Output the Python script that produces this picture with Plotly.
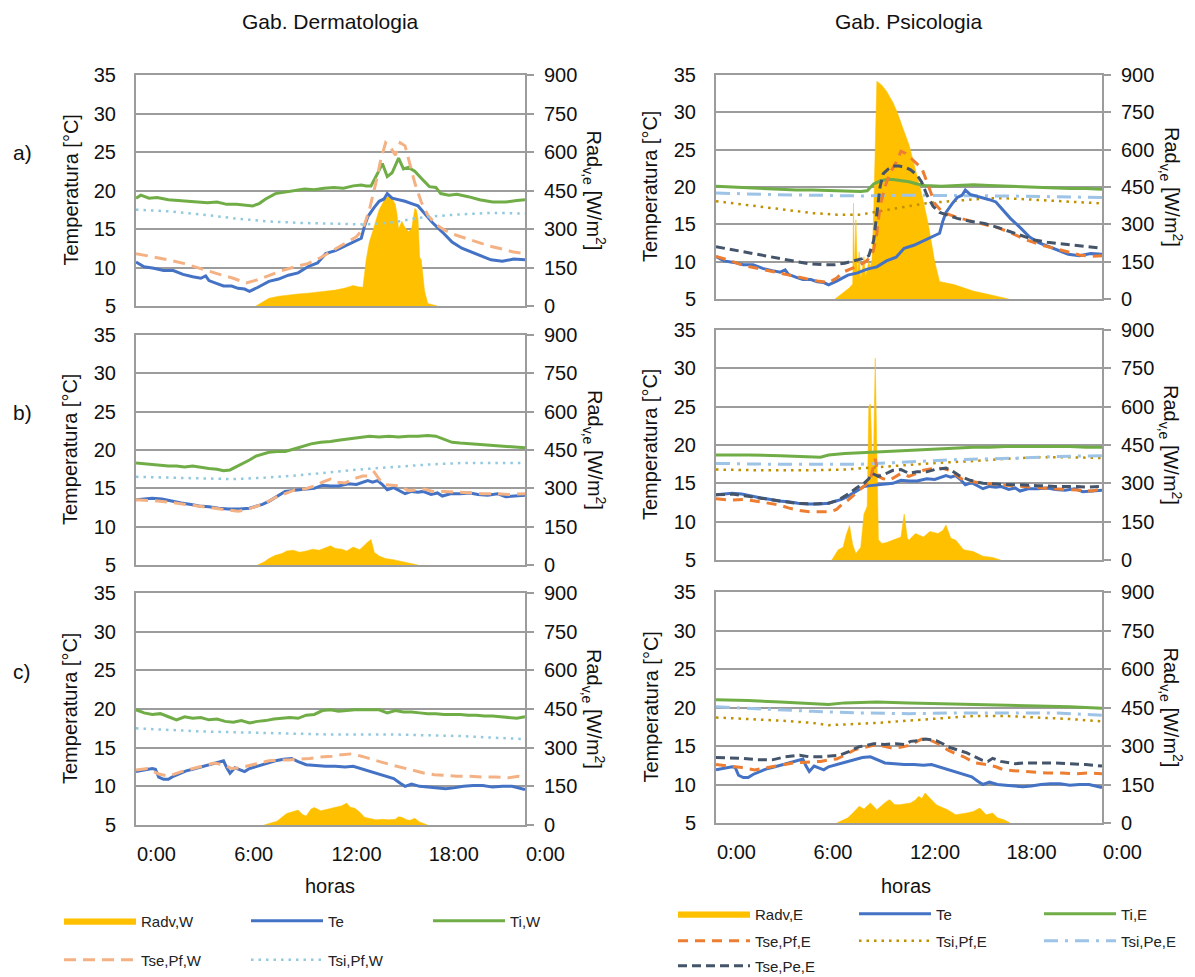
import plotly.graph_objects as go

W, H = 1195, 977

# ---------------- DATA ----------------
HOUR_TICKS = [0, 6, 12, 18, 24]
HOUR_LABELS = ["0:00", "6:00", "12:00", "18:00", "0:00"]

# Row a ---------------------------------------------------------------
TE_A_H = [0, 0.5, 1.1, 1.7, 2.3, 2.9, 3.5, 4.0, 4.3, 4.5, 5.0, 5.4, 5.9, 6.3, 6.7, 7.0, 7.5, 8.2, 8.8, 9.4,
          10.0, 10.6, 11.2, 11.7, 12.3, 12.9, 13.4, 13.9, 14.1, 14.3, 14.7, 15.0, 15.3, 15.5, 15.8, 16.2, 16.6,
          17.0, 17.4, 17.9, 18.3, 18.9, 19.5, 20.1, 20.7, 21.3, 21.9, 22.6, 23.3, 24.0]
TE_A = [10.7, 10.1, 9.9, 9.6, 9.6, 9.1, 8.8, 8.6, 8.9, 8.3, 7.9, 7.6, 7.6, 7.3, 7.2, 6.9, 7.4, 8.2, 8.5, 9.0,
        9.3, 10.1, 10.6, 11.8, 12.2, 12.8, 13.4, 13.8, 15.4, 16.6, 17.8, 18.6, 18.9, 19.6, 19.0, 18.8, 18.6,
        18.3, 18.0, 16.8, 15.8, 14.6, 13.3, 12.5, 12.0, 11.5, 11.0, 10.8, 11.1, 11.0]

TIW_A_H = [0, 0.3, 0.8, 1.3, 2.0, 2.6, 3.2, 3.8, 4.4, 5.0, 5.6, 6.2, 6.8, 7.2, 7.6, 8.0, 8.6, 9.2, 9.8, 10.4,
           11.0, 11.6, 12.2, 12.8, 13.4, 13.9, 14.2, 14.5, 14.9, 15.2, 15.5, 15.8, 16.2, 16.5, 16.8, 17.2, 17.6,
           18.1, 18.5, 18.8, 19.3, 19.8, 20.5, 21.2, 22.0, 22.8, 23.5, 24.0]
TIW_A = [19.0, 19.4, 19.0, 19.1, 18.8, 18.7, 18.6, 18.5, 18.4, 18.5, 18.2, 18.2, 18.1, 18.0, 18.3, 18.9, 19.6,
         19.8, 20.0, 20.2, 20.1, 20.3, 20.4, 20.3, 20.6, 20.7, 20.6, 20.6, 22.2, 23.5, 21.8, 22.3, 24.2, 22.8,
         23.0, 22.5, 21.6, 20.5, 20.4, 19.6, 19.4, 19.5, 19.2, 18.8, 18.5, 18.5, 18.7, 18.8]

TSEW_A_H = [0, 1, 2, 3, 4, 5, 6, 6.8, 7.5, 8.2, 9, 10, 10.6, 11.4, 12.2, 12.9, 13.6, 14.0, 14.4, 14.8, 15.1,
            15.4, 15.7, 16.0, 16.3, 16.6, 16.9, 17.2, 17.6, 18.0, 18.5, 19.0, 19.6, 20.3, 21.0, 21.8, 22.6,
            23.3, 24]
TSEW_A = [11.8, 11.4, 11.0, 10.5, 9.8, 9.2, 8.6, 8.0, 8.4, 9.0, 9.6, 10.2, 10.5, 11.3, 12.3, 13.2, 14.0, 15.0,
          17.5, 21.0, 24.0, 26.2, 25.6, 24.6, 26.2, 25.8, 23.5, 21.0, 18.5, 16.8, 15.6, 14.9, 14.3, 13.8, 13.3,
          12.8, 12.4, 12.0, 11.8]

TSIW_A_H = [0, 2, 4, 6, 8, 10, 12, 14, 15, 16, 17, 18, 20, 22, 24]
TSIW_A = [17.5, 17.3, 16.9, 16.4, 16.0, 15.8, 15.7, 15.6, 15.7, 15.9, 16.3, 16.6, 16.9, 17.1, 17.0]

RADW_A_H = [7.4, 7.8, 8.2, 8.8, 9.4, 10.0, 10.6, 11.2, 11.7, 12.3, 12.9, 13.4, 13.7, 14.0, 14.2, 14.4, 14.6,
            14.8, 15.0, 15.3, 15.6, 15.8, 16.0, 16.1, 16.2, 16.4, 16.6, 16.8, 17.0, 17.2, 17.3, 17.4, 17.5,
            17.6, 17.8, 18.0, 18.4, 18.6]
RADW_A = [0, 15, 30, 38, 43, 47, 50, 54, 57, 62, 70, 80, 75, 73, 180, 250, 290, 330, 375, 410, 432, 420, 395,
          360, 300, 330, 305, 290, 300, 380, 375, 340, 190, 180, 60, 10, 3, 0]

TSEPF_A_H = [0, 0.8, 1.7, 2.8, 4.0, 4.8, 5.6, 6.3, 7.0, 7.5, 7.9, 8.4, 8.9, 9.3, 9.6, 9.8, 10.0, 10.2, 10.5,
             10.8, 11.2, 11.5, 11.8, 12.1, 12.4, 12.8, 13.2, 13.6, 14.0, 14.5, 15.2, 16.0, 16.8, 17.6, 18.4,
             19.2, 20.1, 21.0, 21.8, 22.6, 23.3, 24.0]
TSEPF_A = [10.7, 10.2, 9.5, 9.0, 8.4, 8.1, 7.7, 7.4, 7.2, 7.8, 8.6, 9.0, 9.5, 10.0, 10.6, 11.6, 13.8, 17.4,
           20.0, 21.8, 23.3, 24.8, 24.5, 23.9, 23.3, 22.5, 20.2, 17.8, 16.8, 16.3, 15.8, 15.4, 15.0, 14.5,
           13.8, 13.0, 12.3, 11.8, 11.3, 10.9, 10.7, 10.8]

TSEPE_A_H = [0, 1.0, 2.0, 3.0, 4.0, 5.0, 5.8, 6.6, 7.4, 8.0, 8.6, 9.1, 9.5, 9.8, 10.0, 10.2, 10.4, 10.7, 11.0,
             11.4, 11.8, 12.1, 12.5, 12.8, 13.1, 13.5, 13.9, 14.4, 15.0, 15.8, 16.7, 17.5, 18.3, 19.0, 19.8,
             20.6, 21.4, 22.2, 23.0, 24.0]
TSEPE_A = [12.0, 11.6, 11.2, 10.8, 10.4, 10.0, 9.7, 9.6, 9.6, 9.8, 10.1, 10.4, 10.8, 12.8, 16.4, 20.0, 21.8,
           22.4, 22.8, 22.8, 22.6, 22.3, 21.6, 20.6, 19.0, 17.4, 16.6, 16.2, 15.8, 15.4, 15.1, 14.6, 14.0,
           13.4, 12.9, 12.6, 12.4, 12.2, 12.0, 11.8]

TIE_A_H = [0, 1, 2, 3, 4, 5, 6, 7, 8, 9, 9.4, 9.8, 10.2, 10.6, 11.0, 11.5, 12.0, 12.5, 13.0, 14, 15, 16, 17,
           18, 19, 20, 21, 22, 23, 24]
TIE_A = [20.1, 20.0, 19.9, 19.8, 19.7, 19.6, 19.6, 19.5, 19.4, 19.4, 19.5, 20.4, 20.8, 21.0, 21.0, 20.9, 20.7,
         20.4, 20.2, 20.1, 20.2, 20.3, 20.2, 20.1, 20.0, 20.0, 19.9, 19.8, 19.8, 19.7]

TSIPE_A_H = [0, 3, 6, 9, 12, 15, 18, 21, 24]
TSIPE_A = [19.2, 19.0, 18.9, 18.8, 18.9, 18.9, 18.8, 18.7, 18.6]

TSIPF_A_H = [0, 1.5, 3, 4.5, 6, 7.5, 9, 10, 11, 12, 13, 14, 15, 16, 17, 18, 19, 20, 21, 22, 23, 24]
TSIPF_A = [18.1, 17.7, 17.3, 16.9, 16.5, 16.3, 16.3, 16.7, 17.1, 17.5, 17.8, 18.0, 18.2, 18.4, 18.5, 18.5,
           18.4, 18.3, 18.2, 18.0, 17.9, 17.8]

RADE_A_H = [7.4, 7.7, 8.0, 8.3, 8.5, 8.55, 8.6, 8.7, 8.8, 8.9, 9.0, 9.2, 9.3, 9.5, 9.6, 9.7, 9.8, 9.9, 10.0,
            10.3, 10.6, 11.0, 11.3, 11.6, 12.0, 12.4, 12.8, 13.2, 13.6, 13.9, 14.2, 14.8, 15.4, 16.0, 16.7,
            17.3, 17.8, 18.2]
RADE_A = [0, 15, 30, 45, 60, 385, 120, 318, 90, 190, 80, 170, 90, 150, 130, 160, 340, 600, 875, 860, 835,
          790, 745, 690, 620, 520, 420, 300, 150, 70, 66, 58, 45, 32, 22, 12, 6, 0]

# Row b ---------------------------------------------------------------
TE_B_H = [0, 0.5, 1.0, 1.6, 2.2, 2.8, 3.4, 3.9, 4.5, 5.1, 5.7, 6.4, 7.0, 7.4, 7.8, 8.2, 8.5, 8.9, 9.2, 9.6,
          10.1, 10.6, 11.0, 11.5, 12.0, 12.5, 13.1, 13.6, 14.0, 14.3, 14.6, 14.9, 15.2, 15.5, 15.9, 16.3, 16.6,
          17.0, 17.4, 17.7, 18.2, 18.6, 18.9, 19.4, 20.0, 20.6, 21.1, 21.7, 22.3, 22.8, 23.4, 24.0]
TE_B = [13.5, 13.6, 13.7, 13.6, 13.3, 13.1, 12.9, 12.7, 12.6, 12.4, 12.3, 12.3, 12.4, 12.6, 12.9, 13.3, 13.7,
        14.2, 14.6, 14.7, 14.8, 14.9, 15.0, 15.4, 15.3, 15.3, 15.6, 15.5, 15.8, 16.0, 15.8, 16.0, 15.5, 14.8,
        15.1, 14.7, 14.3, 14.6, 14.5, 14.6, 14.2, 14.4, 14.0, 14.3, 14.3, 14.4, 14.2, 14.1, 14.3, 13.9, 14.0,
        14.1]

TIW_B_H = [0, 0.5, 1, 1.5, 2, 2.5, 3, 3.5, 4, 4.5, 5, 5.4, 5.8, 6.2, 6.6, 7.0, 7.4, 7.8, 8.2, 8.7, 9.2, 9.7,
           10.2, 10.8, 11.4, 12.0, 12.6, 13.2, 13.8, 14.4, 15.0, 15.6, 16.2, 16.8, 17.4, 18.0, 18.5, 19.0,
           19.5, 20.0, 20.6, 21.2, 21.8, 22.4, 23.0, 23.5, 24.0]
TIW_B = [18.3, 18.2, 18.1, 18.0, 17.9, 17.9, 17.8, 17.9, 17.7, 17.6, 17.5, 17.3, 17.4, 17.8, 18.2, 18.7, 19.2,
         19.5, 19.7, 19.8, 19.8, 20.1, 20.4, 20.8, 21.0, 21.1, 21.3, 21.5, 21.7, 21.8, 21.7, 21.8, 21.7, 21.8,
         21.8, 21.9, 21.8, 21.4, 21.0, 20.9, 20.8, 20.7, 20.6, 20.5, 20.4, 20.3, 20.3]

TSEW_B_H = [0, 1, 2, 3, 4, 5, 5.8, 6.3, 6.8, 7.4, 8, 8.6, 9.2, 9.8, 10.4, 11.0, 11.5, 12.0, 12.4, 12.9, 13.5,
            14.0, 14.4, 14.7, 15.0, 15.3, 15.8, 16.3, 16.8, 17.3, 17.8, 18.3, 19.0, 19.8, 20.6, 21.4, 22.2,
            23.0, 24.0]
TSEW_B = [13.5, 13.4, 13.2, 12.9, 12.6, 12.3, 12.1, 12.0, 12.2, 12.6, 13.1, 13.8, 14.3, 14.8, 14.9, 15.3, 15.8,
          16.2, 15.8, 15.7, 16.3, 16.6, 16.6, 17.1, 16.2, 15.5, 15.4, 15.3, 14.7, 14.8, 14.9, 14.6, 14.6, 14.5,
          14.4, 14.3, 14.3, 14.2, 14.3]

TSIW_B_H = [0, 2, 4, 6, 8, 10, 12, 14, 16, 18, 20, 22, 24]
TSIW_B = [16.5, 16.4, 16.3, 16.2, 16.4, 16.7, 17.1, 17.5, 17.8, 18.1, 18.3, 18.3, 18.3]

RADW_B_H = [7.5, 7.9, 8.2, 8.6, 9.0, 9.3, 9.7, 10.1, 10.5, 10.9, 11.3, 11.7, 12.0, 12.3, 12.7, 13.0, 13.4,
            13.8, 14.1, 14.3, 14.5, 14.7, 15.0, 15.4, 15.8, 16.3, 16.7, 17.1, 17.4]
RADW_B = [0, 12, 25, 38, 45, 55, 58, 50, 55, 62, 58, 68, 75, 65, 62, 55, 70, 60, 80, 90, 100, 50, 35, 25, 22,
          15, 10, 5, 0]

TSEPF_B_H = [0, 0.9, 1.8, 2.8, 3.9, 4.5, 5.1, 5.8, 6.4, 7.1, 7.5, 7.8, 8.2, 8.7, 9.1, 9.4, 9.6, 9.8, 9.9, 10.1,
             10.4, 10.8, 11.2, 11.5, 12.0, 12.5, 12.9, 13.4, 13.8, 14.2, 14.5, 15.0, 15.4, 16.0, 16.6, 17.2,
             17.7, 18.3, 18.9, 19.6, 20.3, 21.1, 22.0, 22.8, 23.4, 24.0]
TSEPF_B = [13.0, 12.8, 12.9, 12.6, 12.2, 11.8, 11.5, 11.3, 11.3, 11.3, 11.6, 12.2, 12.8, 13.7, 14.5, 15.0,
           15.5, 17.3, 18.2, 15.9, 15.6, 15.4, 15.9, 16.3, 15.9, 16.4, 16.7, 16.9, 17.0, 16.9, 16.7, 16.0, 15.4,
           15.2, 15.0, 14.9, 14.8, 14.7, 14.6, 14.5, 14.4, 14.3, 14.2, 14.1, 14.0, 14.3]

TSEPE_B_H = [0, 1, 2, 3, 4, 5, 6, 7, 7.6, 8.3, 8.8, 9.2, 9.5, 9.7, 10.1, 10.5, 11.0, 11.5, 12.0, 12.5, 13.1,
             13.6, 14.0, 14.3, 14.7, 15.2, 15.8, 16.6, 17.5, 18.3, 18.9, 20.0, 21.1, 22.2, 23.2, 24.0]
TSEPE_B = [13.5, 13.6, 13.3, 13.0, 12.7, 12.4, 12.3, 12.4, 12.8, 13.7, 14.5, 15.0, 15.6, 16.3, 15.9, 16.2,
           16.7, 16.8, 16.3, 16.5, 16.5, 16.8, 16.9, 17.0, 16.6, 15.9, 15.4, 15.0, 14.9, 14.8, 14.8, 14.7, 14.6,
           14.6, 14.5, 14.6]

TIE_B_H = [0, 2, 4, 6, 6.5, 7, 8, 9, 10, 11, 12, 13, 14, 15, 16, 17, 18, 19, 20, 21, 22, 23, 24]
TIE_B = [18.7, 18.7, 18.6, 18.5, 18.4, 18.7, 18.9, 19.0, 19.1, 19.2, 19.3, 19.4, 19.5, 19.6, 19.7, 19.7, 19.8,
         19.8, 19.8, 19.8, 19.8, 19.7, 19.7]

TSIPE_B_H = [0, 3, 6, 9, 11, 13, 15, 17, 19, 21, 24]
TSIPE_B = [17.6, 17.5, 17.5, 17.5, 17.7, 17.9, 18.1, 18.2, 18.3, 18.5, 18.6]

TSIPF_B_H = [0, 3, 6, 8, 10, 12, 14, 16, 18, 20, 22, 24]
TSIPF_B = [16.8, 16.7, 16.7, 16.8, 17.1, 17.4, 17.7, 17.9, 18.2, 18.4, 18.4, 18.3]

RADE_B_H = [7.2, 7.6, 7.9, 8.1, 8.3, 8.5, 8.7, 9.0, 9.2, 9.4, 9.5, 9.6, 9.7, 9.8, 9.9, 10.0, 10.1, 10.3, 10.6,
            11.0, 11.5, 11.7, 11.9, 12.0, 12.4, 12.9, 13.3, 13.8, 14.1, 14.3, 14.6, 14.9, 15.4, 16.0, 16.6,
            17.2, 17.7]
RADE_B = [0, 40, 50, 100, 135, 60, 25, 50, 180, 210, 600, 610, 420, 430, 790, 420, 80, 65, 68, 78, 90, 180, 85,
          78, 104, 90, 112, 104, 115, 137, 85, 78, 40, 33, 15, 10, 0]

# Row c ---------------------------------------------------------------
TE_C_H = [0, 0.5, 1.0, 1.2, 1.4, 1.7, 2.0, 2.3, 2.7, 3.1, 3.5, 4.0, 4.5, 5.0, 5.4, 5.6, 5.8, 6.1, 6.4, 6.7, 7.0,
          7.5, 8.0, 8.6, 9.1, 9.6, 10.0, 10.5, 11.1, 11.7, 12.3, 12.9, 13.4, 13.9, 14.4, 14.9, 15.4, 15.9, 16.3,
          16.6, 17.0, 17.5, 18.0, 18.6, 19.1, 19.6, 20.2, 20.8, 21.4, 22.0, 22.6, 23.2, 23.7, 24.0]
TE_C = [11.9, 12.1, 12.3, 12.2, 11.2, 10.9, 10.9, 11.3, 11.7, 12.0, 12.2, 12.5, 12.7, 13.0, 13.3, 12.4, 11.7,
        12.4, 12.1, 11.9, 12.3, 12.6, 12.9, 13.3, 13.5, 13.6, 13.2, 12.8, 12.7, 12.6, 12.6, 12.5, 12.6, 12.3,
        11.9, 11.6, 11.4, 11.0, 10.4, 10.0, 10.3, 10.0, 9.9, 9.8, 9.7, 9.8, 10.0, 10.1, 10.1, 9.9, 10.0, 10.0,
        9.8, 9.6]

TIW_C_H = [0, 0.5, 1.0, 1.5, 2.0, 2.5, 3.0, 3.5, 4.0, 4.5, 5.0, 5.5, 6.0, 6.5, 7.0, 7.5, 8.0, 8.5, 9.0, 9.5,
           10.0, 10.5, 11.0, 11.5, 12.0, 12.5, 13.0, 13.5, 14.0, 14.5, 15.0, 15.5, 16.0, 16.5, 17.0, 17.5, 18.0,
           18.5, 19.0, 19.5, 20.0, 20.5, 21.0, 21.5, 22.0, 22.5, 23.0, 23.5, 24.0]
TIW_C = [19.9, 19.5, 19.3, 19.4, 19.0, 18.6, 19.0, 18.8, 18.9, 18.6, 18.7, 18.4, 18.3, 18.5, 18.2, 18.4, 18.5,
         18.7, 18.8, 18.9, 18.8, 19.2, 19.3, 19.8, 19.9, 19.7, 19.8, 19.9, 19.9, 19.9, 19.9, 19.5, 19.8, 19.6,
         19.6, 19.5, 19.4, 19.4, 19.3, 19.3, 19.3, 19.2, 19.2, 19.1, 19.1, 19.0, 18.9, 18.8, 19.0]

TSEW_C_H = [0, 0.7, 1.4, 2.0, 2.8, 3.5, 4.2, 4.8, 5.4, 5.9, 6.4, 7.0, 7.6, 8.2, 8.8, 9.4, 10.0, 10.7, 11.4,
            12.1, 12.7, 13.3, 13.9, 14.5, 15.2, 15.9, 16.6, 17.2, 17.8, 18.4, 19.0, 19.8, 20.6, 21.4, 22.2,
            23.0, 23.6, 24.0]
TSEW_C = [12.1, 12.3, 11.6, 11.3, 11.9, 12.3, 12.7, 13.0, 12.8, 12.3, 12.4, 12.7, 13.0, 13.3, 13.4, 13.4, 13.5,
          13.6, 13.8, 13.9, 14.1, 14.2, 13.9, 13.5, 13.1, 12.7, 12.3, 12.0, 11.7, 11.5, 11.4, 11.3, 11.3, 11.2,
          11.2, 11.1, 11.3, 11.1]

TSIW_C_H = [0, 2, 4, 6, 8, 10, 12, 14, 16, 18, 20, 22, 24]
TSIW_C = [17.5, 17.3, 17.1, 17.0, 16.9, 16.8, 16.7, 16.7, 16.7, 16.6, 16.5, 16.3, 16.1]

RADW_C_H = [7.9, 8.3, 8.7, 9.0, 9.3, 9.6, 10.0, 10.3, 10.5, 10.8, 11.0, 11.4, 11.7, 12.1, 12.4, 12.7, 13.0,
            13.2, 13.5, 13.8, 14.1, 14.4, 14.8, 15.2, 15.6, 16.0, 16.2, 16.4, 16.7, 16.9, 17.2, 17.5, 17.8, 18.0]
RADW_C = [0, 8, 15, 30, 45, 50, 58, 40, 35, 62, 68, 55, 60, 65, 72, 75, 85, 70, 65, 50, 30, 25, 20, 22, 20, 22,
          32, 30, 20, 18, 26, 12, 3, 0]

TSEPF_C_H = [0, 0.8, 1.6, 2.4, 3.2, 4.0, 4.8, 5.6, 6.5, 7.0, 7.5, 8.0, 8.6, 9.2, 9.8, 10.4, 11.0, 11.6, 12.1,
             12.5, 12.8, 13.2, 13.5, 13.9, 14.4, 14.9, 15.4, 16.1, 16.8, 17.4, 17.9, 18.5, 19.1, 19.8, 20.6,
             21.5, 22.4, 23.2, 24.0]
TSEPF_C = [12.6, 12.4, 12.2, 11.9, 12.2, 12.5, 12.8, 12.9, 13.0, 13.2, 13.3, 13.8, 14.5, 14.8, 15.1, 15.0,
           14.7, 14.9, 15.1, 15.6, 15.9, 15.8, 15.6, 15.2, 14.5, 14.0, 13.6, 12.8, 12.6, 12.3, 11.9, 11.8, 11.7,
           11.6, 11.5, 11.5, 11.4, 11.5, 11.4]

TSEPE_C_H = [0, 1, 1.7, 2.6, 3.5, 4.3, 5.2, 5.8, 6.5, 7.1, 7.7, 8.3, 8.9, 9.4, 9.8, 10.5, 11.2, 11.7, 12.1,
             12.6, 13.0, 13.4, 13.7, 14.1, 14.4, 15.0, 15.6, 16.0, 16.5, 16.9, 17.2, 17.7, 18.1, 18.6, 19.1,
             20.0, 21.0, 22.0, 23.0, 24.0]
TSEPE_C = [13.5, 13.4, 13.4, 13.2, 13.2, 13.6, 13.8, 13.6, 13.6, 13.7, 13.8, 14.3, 14.9, 15.1, 15.3, 15.2,
           15.3, 15.2, 15.6, 15.7, 15.9, 15.8, 15.7, 15.3, 14.9, 14.5, 14.1, 13.7, 13.2, 13.0, 13.4, 13.0, 12.9,
           12.7, 12.8, 12.8, 12.8, 12.7, 12.6, 12.4]

TIE_C_H = [0, 2, 4, 6, 7, 8, 10, 12, 14, 16, 18, 20, 22, 24]
TIE_C = [21.0, 20.9, 20.7, 20.5, 20.4, 20.6, 20.7, 20.6, 20.5, 20.4, 20.3, 20.2, 20.1, 19.9]

TSIPE_C_H = [0, 3, 6, 9, 12, 15, 18, 21, 24]
TSIPE_C = [20.1, 19.8, 19.5, 19.3, 19.2, 19.3, 19.3, 19.3, 19.0]

TSIPF_C_H = [0, 2, 4, 6, 7, 8, 10, 12, 14, 16, 18, 20, 22, 24]
TSIPF_C = [18.7, 18.5, 18.3, 18.0, 17.7, 17.8, 18.0, 18.3, 18.6, 18.9, 18.9, 18.7, 18.5, 18.2]

RADE_C_H = [7.5, 7.9, 8.2, 8.6, 8.9, 9.2, 9.6, 10.0, 10.3, 10.6, 10.8, 11.1, 11.4, 11.8, 12.1, 12.4, 12.6, 12.8,
            13.0, 13.3, 13.7, 14.0, 14.4, 14.9, 15.3, 15.6, 16.0, 16.4, 16.8, 17.2, 17.5, 17.9, 18.3]
RADE_C = [0, 10, 20, 45, 65, 55, 78, 52, 70, 84, 91, 72, 71, 75, 78, 90, 104, 95, 117, 97, 71, 62, 52, 32, 35,
          39, 45, 58, 32, 39, 20, 13, 0]

# ---------------- STYLE ----------------
FONT = "Liberation Sans, Arial, sans-serif"
GRID = "#9c9c9c"
C_RAD = "#FFC000"
C_TE = "#4472C4"
C_TI = "#70AD47"
C_TSE_W = "#F4B183"
C_TSI_W = "#92C9DE"
C_TSEPF = "#ED7D31"
C_TSIPF = "#BF9000"
C_TSIPE = "#9DC3E6"
C_TSEPE = "#44546A"

LINE_STYLES = {
    "Te": dict(color=C_TE, width=3),
    "Ti": dict(color=C_TI, width=3),
    "TseW": dict(color=C_TSE_W, width=3, dash="12px,7px"),
    "TsiW": dict(color=C_TSI_W, width=2.5, dash="2.5px,5px"),
    "TsePf": dict(color=C_TSEPF, width=3, dash="10px,7px"),
    "TsiPf": dict(color=C_TSIPF, width=2.5, dash="2.5px,5px"),
    "TsiPe": dict(color=C_TSIPE, width=3, dash="14px,7px,3px,7px"),
    "TsePe": dict(color=C_TSEPE, width=3, dash="9px,5px"),
}

# panel geometry in pixels: (x0, x1, y_top, y_bottom)
PANEL_PX = [
    (136, 525, 75, 306), (716, 1102, 75, 299),
    (136, 525, 335, 565), (716, 1102, 330, 560),
    (136, 525, 593, 825), (716, 1102, 592, 823),
]


def px(x):
    return x / W


def py(y):
    return 1 - y / H


rows = [
    dict(te=(TE_A_H, TE_A),
         W=dict(rad=(RADW_A_H, RADW_A), ti=(TIW_A_H, TIW_A), tse=(TSEW_A_H, TSEW_A), tsi=(TSIW_A_H, TSIW_A)),
         E=dict(rad=(RADE_A_H, RADE_A), ti=(TIE_A_H, TIE_A), tsepf=(TSEPF_A_H, TSEPF_A),
                tsipf=(TSIPF_A_H, TSIPF_A), tsipe=(TSIPE_A_H, TSIPE_A), tsepe=(TSEPE_A_H, TSEPE_A))),
    dict(te=(TE_B_H, TE_B),
         W=dict(rad=(RADW_B_H, RADW_B), ti=(TIW_B_H, TIW_B), tse=(TSEW_B_H, TSEW_B), tsi=(TSIW_B_H, TSIW_B)),
         E=dict(rad=(RADE_B_H, RADE_B), ti=(TIE_B_H, TIE_B), tsepf=(TSEPF_B_H, TSEPF_B),
                tsipf=(TSIPF_B_H, TSIPF_B), tsipe=(TSIPE_B_H, TSIPE_B), tsepe=(TSEPE_B_H, TSEPE_B))),
    dict(te=(TE_C_H, TE_C),
         W=dict(rad=(RADW_C_H, RADW_C), ti=(TIW_C_H, TIW_C), tse=(TSEW_C_H, TSEW_C), tsi=(TSIW_C_H, TSIW_C)),
         E=dict(rad=(RADE_C_H, RADE_C), ti=(TIE_C_H, TIE_C), tsepf=(TSEPF_C_H, TSEPF_C),
                tsipf=(TSIPF_C_H, TSIPF_C), tsipe=(TSIPE_C_H, TSIPE_C), tsepe=(TSEPE_C_H, TSEPE_C))),
]

fig = go.Figure()
layout = dict(
    width=W, height=H, autosize=False,
    margin=dict(l=0, r=0, t=0, b=0, autoexpand=False),
    paper_bgcolor="white", plot_bgcolor="white",
    font=dict(family=FONT, size=20, color="#111111"),
    showlegend=True,
)


def add_line(k, h, v, style, name, legend, show):
    fig.add_trace(go.Scatter(
        x=h, y=v, mode="lines", name=name, line=style,
        xaxis=f"x{k}", yaxis=f"y{2 * k}",
        legend=legend, showlegend=show, hoverinfo="skip"))


def add_rad(k, h, v, name, legend, show):
    fig.add_trace(go.Scatter(
        x=h, y=v, mode="lines", name=name, fill="tozeroy", fillcolor=C_RAD,
        line=dict(color=C_RAD, width=0.5),
        xaxis=f"x{k}", yaxis=f"y{2 * k - 1}",
        legend=legend, showlegend=show, hoverinfo="skip"))


for r, row in enumerate(rows):
    first = (r == 0)
    # left: Dermatologia (W)
    k = 2 * r + 1
    d = row["W"]
    add_rad(k, *d["rad"], "Radv,W", "legend", first)
    add_line(k, *row["te"], LINE_STYLES["Te"], "Te", "legend2", first)
    add_line(k, *d["ti"], LINE_STYLES["Ti"], "Ti,W", "legend3", first)
    add_line(k, *d["tse"], LINE_STYLES["TseW"], "Tse,Pf,W", "legend4", first)
    add_line(k, *d["tsi"], LINE_STYLES["TsiW"], "Tsi,Pf,W", "legend5", first)
    # right: Psicologia (E)
    k = 2 * r + 2
    d = row["E"]
    add_rad(k, *d["rad"], "Radv,E", "legend6", first)
    add_line(k, *d["tsipf"], LINE_STYLES["TsiPf"], "Tsi,Pf,E", "legend10", first)
    add_line(k, *d["tsipe"], LINE_STYLES["TsiPe"], "Tsi,Pe,E", "legend11", first)
    add_line(k, *d["ti"], LINE_STYLES["Ti"], "Ti,E", "legend8", first)
    add_line(k, *row["te"], LINE_STYLES["Te"], "Te", "legend7", first)
    add_line(k, *d["tsepf"], LINE_STYLES["TsePf"], "Tse,Pf,E", "legend9", first)
    add_line(k, *d["tsepe"], LINE_STYLES["TsePe"], "Tse,Pe,E", "legend12", first)

for i, (x0, x1, yt, yb) in enumerate(PANEL_PX):
    k = i + 1
    bottom = i >= 4
    layout[f"xaxis{k}"] = dict(
        domain=[px(x0), px(x1)], anchor=f"y{2 * k - 1}", range=[0, 24],
        tickvals=HOUR_TICKS, ticktext=HOUR_LABELS, showticklabels=bottom,
        ticks="", showgrid=False, zeroline=False,
        showline=True, linecolor=GRID, linewidth=2, mirror=True,
        ticklabelposition="outside right", ticklabelstandoff=10,
        tickfont=dict(size=20, color="#111111"),
    )
    # base axis: radiation (right side, carries grid)
    layout[f"yaxis{2 * k - 1}"] = dict(
        domain=[py(yb), py(yt)], anchor=f"x{k}", side="right",
        range=[0, 900], tickmode="linear", tick0=0, dtick=150,
        showgrid=True, gridcolor=GRID, gridwidth=2, zeroline=False,
        showline=True, linecolor=GRID, linewidth=2,
        ticks="outside", ticklen=7, tickwidth=2, tickcolor=GRID,
        ticklabelstandoff=6, tickfont=dict(size=20, color="#111111"),
    )
    # overlay axis: temperature (left side)
    layout[f"yaxis{2 * k}"] = dict(
        overlaying=f"y{2 * k - 1}", anchor=f"x{k}", side="left",
        range=[5, 35], tickmode="linear", tick0=5, dtick=5,
        showgrid=False, zeroline=False,
        showline=True, linecolor=GRID, linewidth=2,
        ticks="", ticklabelstandoff=14, tickfont=dict(size=20, color="#111111"),
    )

# ---------------- LEGENDS (one per entry, placed like the original) ----------------
LEG_POS = {
    "legend": (63, 921), "legend2": (250, 921), "legend3": (432, 921),
    "legend4": (63, 960), "legend5": (250, 960),
    "legend6": (677, 914), "legend7": (858, 914), "legend8": (1043, 914),
    "legend9": (677, 941), "legend10": (858, 941), "legend11": (1043, 941),
    "legend12": (677, 966),
}
for key, (lx, ly) in LEG_POS.items():
    layout[key] = dict(
        x=px(lx - 4), y=py(ly), xanchor="left", yanchor="middle",
        orientation="h", bgcolor="rgba(0,0,0,0)", borderwidth=0,
        font=dict(family=FONT, size=15, color="#222222"),
        itemwidth=72, tracegroupgap=0,
    )

# ---------------- TEXT ----------------
ann = []
ann.append(dict(text="Gab. Dermatologia", x=px(330), y=py(22), showarrow=False, font=dict(size=21)))
ann.append(dict(text="Gab. Psicologia", x=px(908), y=py(22), showarrow=False, font=dict(size=21)))
for lab, (x0, x1, yt, yb) in zip(["a)", "b)", "c)"], PANEL_PX[0::2]):
    ann.append(dict(text=lab, x=px(22), y=py((yt + yb) / 2 - 38), showarrow=False, font=dict(size=21)))
for (x0, x1, yt, yb) in PANEL_PX:
    yc = py((yt + yb) / 2)
    ann.append(dict(text="Temperatura [°C]", x=px(x0 - 66), y=yc, textangle=-90,
                    showarrow=False, font=dict(size=20)))
    ann.append(dict(text="Rad<sub>v,e</sub> [W/m<sup>2</sup>]", x=px(x1 + 69), y=yc, textangle=90,
                    showarrow=False, font=dict(size=20)))
ann.append(dict(text="horas", x=px(330), y=py(886), showarrow=False, font=dict(size=20)))
ann.append(dict(text="horas", x=px(906), y=py(886), showarrow=False, font=dict(size=20)))
for a in ann:
    a.update(xref="paper", yref="paper", xanchor="center", yanchor="middle")
layout["annotations"] = ann

fig.update_layout(**layout)
fig.write_html("out.html")
